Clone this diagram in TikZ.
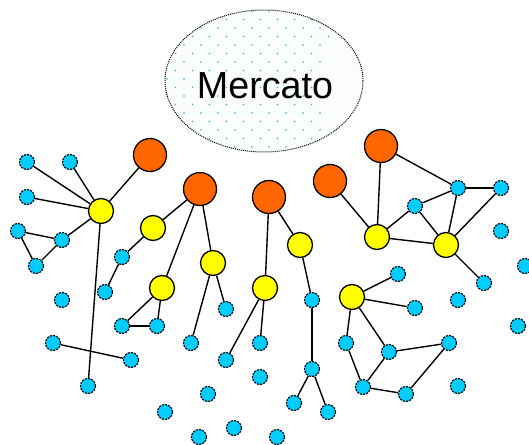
\documentclass[tikz,border=0pt]{standalone}
\usepackage{fontspec}
\setmainfont{Liberation Sans}
\usetikzlibrary{shapes.geometric}
\definecolor{leadorange}{RGB}{255,102,0}
\definecolor{hubyellow}{RGB}{255,255,0}
\definecolor{peercyan}{RGB}{0,204,255}
\definecolor{marketdot}{RGB}{30,200,140}
\definecolor{marketbg}{RGB}{250,252,254}
\tikzset{
  lead/.style={circle, draw=black, fill=leadorange, line width=1.3pt, minimum size=33pt, inner sep=0pt},
  hub/.style={circle, draw=black, fill=hubyellow, line width=1.3pt, minimum size=25pt, inner sep=0pt},
  peer/.style={circle, draw=black, fill=peercyan, line width=1.1pt, dash pattern=on 2.2pt off 1pt, minimum size=15pt, inner sep=0pt},
  link/.style={line width=1.4pt, draw=black},
  market/.style={ellipse, draw=black, line width=1pt, densely dotted, fill=marketbg, minimum width=198pt, minimum height=142pt, inner sep=0pt,
    path picture={
      \foreach \k in {-5,...,13}{
        \foreach \m in {-8,...,7}{
          \fill[marketdot] ([shift={({-63+17*\m-8.5*mod(\k,2)},{-36+8.5*\k})}]path picture bounding box.center) circle (0.9pt);
        }
      }
    }},
  marketlabel/.style={font=\fontsize{37.7}{40}\selectfont, inner sep=0pt},
}
\begin{document}
\begin{tikzpicture}[x=1pt,y=-1pt]
  \useasboundingbox (0,0) rectangle (529,444);
  % the market
  \node[market] (mkt) at (264,81) {};
  \node[marketlabel] (mktname) at (265,86) {Mercato};
  % big firms
  \node[lead] (o1) at (150,155) {};
  \node[lead] (o2) at (200,189) {};
  \node[lead] (o3) at (269,197) {};
  \node[lead] (o4) at (330,181) {};
  \node[lead] (o5) at (381,146) {};
  % intermediaries
  \node[hub] (g1) at (101,211) {};
  \node[hub] (g2) at (153,228) {};
  \node[hub] (g3) at (213,263) {};
  \node[hub] (g4) at (162,288) {};
  \node[hub] (g5) at (265,288) {};
  \node[hub] (g6) at (300,245) {};
  \node[hub] (g7) at (377,237) {};
  \node[hub] (g8) at (446,245) {};
  \node[hub] (g9) at (352,297) {};
  % small firms
  \foreach \n/\x/\y in {1/27/162, 2/70/162, 3/27/197, 4/18/231, 5/62/240, 6/36/266,
      7/122/257, 8/105/292, 9/122/326, 10/157/326, 11/62/300, 12/88/386,
      13/53/343, 14/131/360, 15/191/343, 16/226/309, 17/226/360, 18/260/343,
      19/260/377, 20/208/394, 21/165/412, 22/199/437, 23/234/428, 24/277/437,
      25/294/403, 26/312/300, 27/312/369, 28/328/412, 29/346/343, 30/363/387,
      31/398/274, 32/415/308, 33/389/352, 34/449/343, 35/406/394, 36/458/386,
      37/458/300, 38/484/283, 39/518/326, 40/525/266, 41/415/206, 42/458/188,
      43/501/188, 44/501/231}
    \node[peer] (c\n) at (\x,\y) {};
  % ties
  \foreach \a/\b in {o1/g1, g1/c1, g1/c2, g1/c3, g1/c5, c4/c5, c4/c6, c6/c5, g1/c12,
      o2/g2, o2/g3, o2/g4, g2/c7, c7/c8, g4/c9, g4/c10, c9/c10, g3/c15, g3/c16,
      c13/c14, o3/g5, o3/g6, g5/c17, g5/c18, g6/c26, c26/c27, c27/c25, c27/c28,
      o4/g7, o5/g7, o5/c42, g7/c41, c41/c42, c41/g8, g7/g8, c42/g8, c42/c43,
      c43/g8, g8/c38, g9/c31, g9/c32, g9/c29, g9/c33, c29/c30, c33/c30,
      c33/c34, c30/c35, c35/c34}
    {\draw[link] (\a) -- (\b);}
\end{tikzpicture}
\end{document}
